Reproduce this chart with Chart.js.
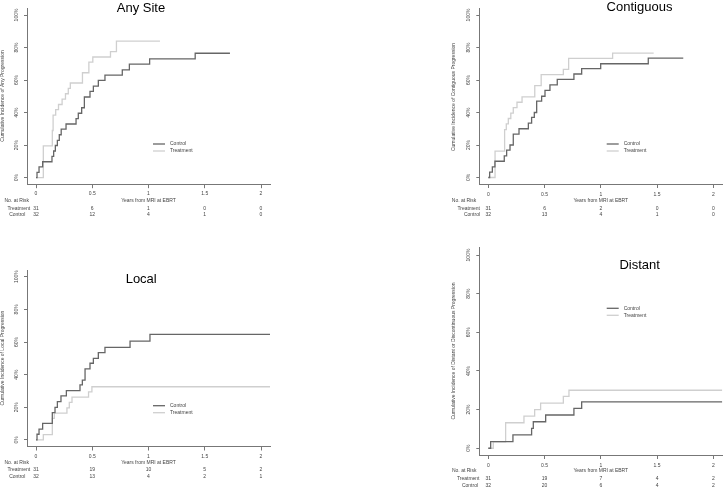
<!DOCTYPE html>
<html><head><meta charset="utf-8">
<script src="https://cdn.jsdelivr.net/npm/chart.js@4"></script>
<style>
html,body{margin:0;padding:0;background:#fff;width:724px;height:489px;overflow:hidden}
canvas{position:absolute;left:0;top:0}
</style></head><body>
<canvas id="c1" width="724" height="489"></canvas>
<canvas id="c2" width="724" height="489"></canvas>
<canvas id="c3" width="724" height="489"></canvas>
<canvas id="c4" width="724" height="489"></canvas>
<script>
// ---------- data ----------
const xTickValues = [0, 0.5, 1, 1.5, 2];
const xTickLabels = ['0', '0.5', '1', '1.5', '2'];
const yTickValues = [0, 20, 40, 60, 80, 100];
const yTickLabels = ['0%', '20%', '40%', '60%', '80%', '100%'];
const seriesNames = ['Control', 'Treatment'];
const riskHeader = 'No. at Risk';
const riskRowLabels = ['Treatment', 'Control'];
const xTitle = 'Years from MRI at EBRT';

// Any Site
const anyTitle = 'Any Site';
const anyYTitle = 'Cumulative Incidence of Any Progression';
const anyControlT = [0, 0.009, 0.027, 0.059, 0.142, 0.157, 0.172, 0.19, 0.207, 0.224, 0.267, 0.356, 0.376, 0.406, 0.43, 0.48, 0.51, 0.554, 0.613, 0.767, 0.83, 1.01, 1.415, 1.724];
const anyControlY = [0, 3.3, 6.6, 9.8, 13.1, 16.4, 19.8, 23.0, 26.4, 29.8, 33.0, 36.3, 39.6, 43.0, 49.6, 53.0, 56.3, 59.8, 63.0, 66.3, 69.8, 73.0, 76.5, 76.5];
const anyTreatT = [0, 0.065, 0.145, 0.152, 0.175, 0.2, 0.232, 0.262, 0.287, 0.305, 0.413, 0.47, 0.505, 0.662, 0.715, 1.102];
const anyTreatY = [0, 19.5, 29.0, 38.5, 41.8, 45.0, 48.3, 51.6, 54.9, 58.2, 64.5, 71.0, 74.2, 77.5, 84.0, 84.0];
const anyRiskTreat = [31, 6, 1, 0, 0];
const anyRiskControl = [32, 12, 4, 1, 0];

// Contiguous
const contTitle = 'Contiguous';
const contYTitle = 'Cumulative Incidence of Contiguous Progression';
const contControlT = [0, 0.012, 0.036, 0.059, 0.142, 0.163, 0.193, 0.222, 0.273, 0.356, 0.385, 0.409, 0.43, 0.474, 0.504, 0.548, 0.613, 0.761, 0.83, 0.999, 1.422, 1.733];
const contControlY = [0, 3.3, 6.6, 10.0, 13.3, 16.8, 20.0, 26.7, 30.0, 33.5, 37.0, 40.0, 47.0, 50.0, 53.6, 57.0, 60.4, 63.7, 67.0, 70.0, 73.5, 73.5];
const contTreatT = [0, 0.06, 0.145, 0.16, 0.178, 0.2, 0.222, 0.255, 0.3, 0.413, 0.47, 0.667, 0.714, 1.105, 1.47];
const contTreatY = [0, 16.2, 29.5, 33.0, 36.3, 39.6, 43.0, 46.3, 49.6, 56.5, 63.3, 66.6, 73.3, 76.6, 76.6];
const contRiskTreat = [31, 6, 2, 0, 0];
const contRiskControl = [32, 13, 4, 1, 0];

// Local
const localTitle = 'Local';
const localYTitle = 'Cumulative Incidence of Local Progression';
const localControlT = [0, 0.009, 0.027, 0.059, 0.145, 0.169, 0.19, 0.222, 0.27, 0.391, 0.412, 0.436, 0.48, 0.51, 0.554, 0.613, 0.836, 1.013, 2.08];
const localControlY = [0, 3.5, 6.7, 10.2, 16.7, 20.0, 23.5, 27.0, 30.2, 33.7, 36.7, 43.5, 47.0, 50.0, 53.5, 56.7, 60.6, 64.7, 64.7];
const localTreatT = [0, 0.065, 0.145, 0.163, 0.275, 0.296, 0.32, 0.467, 0.497, 2.08];
const localTreatY = [0, 3.3, 13.2, 16.4, 19.7, 23.0, 26.2, 29.5, 32.6, 32.6];
const localRiskTreat = [31, 19, 10, 5, 2];
const localRiskControl = [32, 13, 4, 2, 1];

// Distant
const distTitle = 'Distant';
const distYTitle = 'Cumulative Incidence of Distant or Discontinuous Progression';
const distControlT = [0, 0.021, 0.219, 0.385, 0.4, 0.51, 0.761, 0.83, 2.08];
const distControlY = [0, 3.4, 6.9, 10.3, 13.7, 17.2, 20.6, 24.0, 24.0];
const distTreatT = [0, 0.044, 0.154, 0.317, 0.412, 0.465, 0.667, 0.717, 2.08];
const distTreatY = [0, 3.3, 13.2, 16.6, 20.0, 23.4, 26.8, 30.0, 30.0];
const distRiskTreat = [31, 19, 7, 4, 2];
const distRiskControl = [32, 20, 6, 4, 2];

// ---------- style ----------
const FAMILY = '"Liberation Sans", Arial, Helvetica, sans-serif';
const SMALL = '5px ' + FAMILY;
const TXT = '#444';
const AXIS = '#777';
const CTRL = '#666666';
const TRT = '#cfcfcf';
const XAXIS_H = 14;

const decor = {
  id: 'decor',
  afterDraw(chart, args, o) {
    const ctx = chart.ctx, xs = chart.scales.x, ys = chart.scales.y;
    ctx.save();
    ctx.textAlign = 'center';
    ctx.textBaseline = 'middle';
    // title
    ctx.fillStyle = '#000';
    ctx.font = '13px ' + FAMILY;
    ctx.fillText(o.title, o.titleX, o.titleY);
    // y tick labels (rotated)
    ctx.font = SMALL;
    ctx.fillStyle = TXT;
    yTickValues.forEach((v, i) => {
      ctx.save();
      ctx.translate(o.yLabX, ys.getPixelForValue(v));
      ctx.rotate(-Math.PI / 2);
      ctx.fillText(yTickLabels[i], 0, 0);
      ctx.restore();
    });
    // y title
    ctx.save();
    ctx.translate(o.yTitleX, o.yTitleY);
    ctx.rotate(-Math.PI / 2);
    ctx.fillText(o.yTitle, 0, 0);
    ctx.restore();
    // x title
    ctx.fillText(xTitle, xs.getPixelForValue(1), o.xTitleY);
    // risk table
    ctx.fillText(riskHeader, o.hdrX, o.hdrY);
    ctx.fillText(riskRowLabels[0], o.rowX[0], o.rowY[0]);
    ctx.fillText(riskRowLabels[1], o.rowX[1], o.rowY[1]);
    xTickValues.forEach((v, i) => {
      const px = xs.getPixelForValue(v);
      ctx.fillText(String(o.riskTreat[i]), px, o.rowY[0]);
      ctx.fillText(String(o.riskControl[i]), px, o.rowY[1]);
    });
    // legend
    chart.data.datasets.forEach((ds, i) => {
      const y = o.legY + i * 7;
      ctx.strokeStyle = ds.borderColor;
      ctx.lineWidth = ds.borderWidth;
      ctx.beginPath();
      ctx.moveTo(o.legX, y);
      ctx.lineTo(o.legX + 12, y);
      ctx.stroke();
      ctx.textAlign = 'left';
      ctx.fillStyle = TXT;
      ctx.fillText(ds.label, o.legX + 17, y);
    });
    ctx.restore();
  }
};

function pts(t, y) { return t.map((v, i) => ({ x: v, y: y[i] })); }

function makePanel(id, p) {
  const [L, R, T, B] = p.area;
  new Chart(document.getElementById(id), {
    type: 'line',
    data: {
      datasets: [
        { label: seriesNames[0], data: pts(p.ct, p.cy), borderColor: CTRL, borderWidth: 1.3, stepped: 'before', pointRadius: 0, fill: false },
        { label: seriesNames[1], data: pts(p.tt, p.ty), borderColor: TRT, borderWidth: 1.3, stepped: 'before', pointRadius: 0, fill: false }
      ]
    },
    options: {
      responsive: false, animation: false, devicePixelRatio: 1,
      layout: { padding: { left: L, right: 724 - R, top: T, bottom: 489 - B - XAXIS_H } },
      plugins: { legend: { display: false }, title: { display: false }, tooltip: { enabled: false }, decor: p.decor },
      scales: {
        x: {
          type: 'linear', min: -0.08, max: 2.08,
          afterBuildTicks: s => { s.ticks = xTickValues.map(v => ({ value: v })); },
          afterFit: s => { s.height = XAXIS_H; },
          grid: { drawOnChartArea: false, drawTicks: true, tickLength: 4, color: AXIS, lineWidth: 1 },
          border: { display: true, color: AXIS, width: 1 },
          ticks: { font: { size: 5, family: FAMILY }, color: TXT, padding: p.xPad, autoSkip: false, maxRotation: 0, minRotation: 0,
                   callback: (v, i) => xTickLabels[i] }
        },
        y: {
          type: 'linear', min: p.ymin, max: 104,
          afterBuildTicks: s => { s.ticks = yTickValues.map(v => ({ value: v })); },
          afterFit: s => { s.width = 0; },
          grid: { drawOnChartArea: false, drawTicks: true, tickLength: 3, color: AXIS, lineWidth: 1 },
          border: { display: true, color: AXIS, width: 1 },
          ticks: { display: false }
        }
      }
    },
    plugins: [decor]
  });
}

makePanel('c1', {
  area: [27, 270, 8.5, 184.2], ymin: -4, xPad: 2.5,
  ct: anyControlT, cy: anyControlY, tt: anyTreatT, ty: anyTreatY,
  decor: { title: anyTitle, titleX: 141, titleY: 8, yTitle: anyYTitle, yTitleX: 3, yTitleY: 96, yLabX: 17,
           xTitleY: 200.5, hdrX: 16.7, hdrY: 200.3, rowX: [18.8, 17.2], rowY: [208.3, 215],
           riskTreat: anyRiskTreat, riskControl: anyRiskControl, legX: 153, legY: 144 }
});
makePanel('c2', {
  area: [479.3, 722.3, 8.5, 184], ymin: -4, xPad: 3.5,
  ct: contControlT, cy: contControlY, tt: contTreatT, ty: contTreatY,
  decor: { title: contTitle, titleX: 639.5, titleY: 7.5, yTitle: contYTitle, yTitleX: 453.3, yTitleY: 97, yLabX: 468.5,
           xTitleY: 201, hdrX: 464, hdrY: 201, rowX: [468.7, 472], rowY: [208.3, 215],
           riskTreat: contRiskTreat, riskControl: contRiskControl, legX: 606.7, legY: 144 }
});
makePanel('c3', {
  area: [27, 270, 270.2, 446.5], ymin: -4, xPad: 3,
  ct: localControlT, cy: localControlY, tt: localTreatT, ty: localTreatY,
  decor: { title: localTitle, titleX: 141.2, titleY: 279.2, yTitle: localYTitle, yTitleX: 3, yTitleY: 358, yLabX: 17,
           xTitleY: 462.3, hdrX: 16.7, hdrY: 462.3, rowX: [18.8, 17.2], rowY: [470, 476.7],
           riskTreat: localRiskTreat, riskControl: localRiskControl, legX: 153, legY: 405.7 }
});
makePanel('c4', {
  area: [479.3, 722.3, 247.3, 455], ymin: -3.5, xPad: 3.5,
  ct: distControlT, cy: distControlY, tt: distTreatT, ty: distTreatY,
  decor: { title: distTitle, titleX: 639.7, titleY: 265.3, yTitle: distYTitle, yTitleX: 454, yTitleY: 351, yLabX: 469,
           xTitleY: 470.7, hdrX: 464.2, hdrY: 471, rowX: [468.2, 470], rowY: [479, 485.3],
           riskTreat: distRiskTreat, riskControl: distRiskControl, legX: 606.7, legY: 308.3 }
});
</script>
</body></html>
